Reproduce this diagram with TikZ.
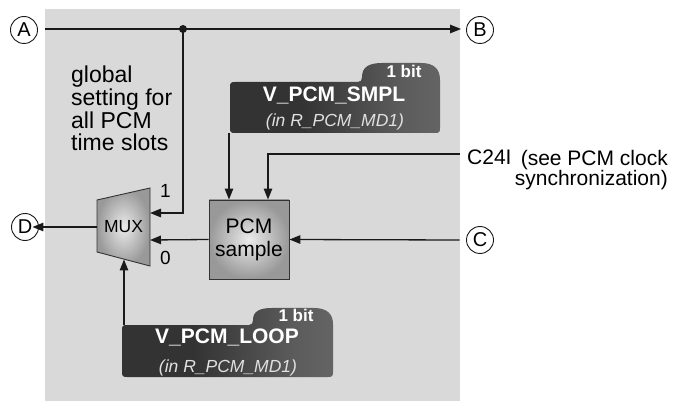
\documentclass[tikz,border=0pt]{standalone}
\usepackage{fontspec}
\setmainfont{Liberation Sans}
\usetikzlibrary{arrows.meta,calc}
\definecolor{panel}{HTML}{D9D9D9}
\definecolor{rdark}{HTML}{333333}
\definecolor{rmid}{HTML}{5C5C5C}
\definecolor{rlight}{HTML}{7A7A7A}
\definecolor{linec}{HTML}{1A1A1A}
\pgfdeclarehorizontalshading{regshade}{100bp}{color(0bp)=(rdark); color(42bp)=(rdark); color(66bp)=(rmid); color(100bp)=(rlight)}
\begin{document}
\begin{tikzpicture}[x=1pt,y=-1pt,
  conn/.style={line width=1.3pt, draw=linec},
  arr/.style={conn, -{Triangle[length=11pt,width=8.5pt]}},
  circ/.style={circle, draw=linec, line width=0.9pt, minimum size=27pt, inner sep=0pt, font=\fontsize{20}{20}\selectfont},
  txt/.style={font=\fontsize{23}{22.7}\selectfont, inner sep=0pt},
  lbl/.style={font=\fontsize{19}{20}\selectfont, inner sep=0pt},
  clktext/.style={font=\fontsize{21}{20}\selectfont, inner sep=0pt},
  regname/.style={font=\bfseries\fontsize{21}{22}\selectfont, text=white, inner sep=0pt},
  regsub/.style={font=\itshape\fontsize{17.5}{18}\selectfont, text=black!12, inner sep=0pt},
  bitlbl/.style={font=\bfseries\fontsize{17}{18}\selectfont, text=white, inner sep=0pt},
  blockbox/.style={draw=black!80, line width=0.9pt, inner color=black!8, outer color=black!40},
]
\useasboundingbox (0,0) rectangle (673,401);
\fill[panel] (45,9) rectangle (460,401);

% terminals
\node[circ] (A) at (24,30) {A};
\node[circ] (B) at (480,30) {B};
\node[circ] (C) at (480,240) {C};
\node[circ] (D) at (25,227) {D};

% global text
\node[txt, align=left, anchor=north west] (glob) at (71,66) {global\\setting for\\all PCM\\time slots};

% register V_PCM_SMPL
\shade[shading=regshade] (230,128) -- (230,87) .. controls (230,83) and (231,82) .. (235,82)
  -- (358,82) .. controls (361,82) and (362,80) .. (362,77)
  .. controls (362,67) and (369,63) .. (382,63) -- (421,63)
  .. controls (434,63) and (440,69) .. (440,80) -- (440,128)
  .. controls (440,132) and (439,133) .. (435,133) -- (235,133)
  .. controls (231,133) and (230,132) .. (230,128) -- cycle;
\node[regname, anchor=base] (smplname) at (334,102) {V\_PCM\_SMPL};
\node[regsub, anchor=base] (smplsub) at (335,127) {(in R\_PCM\_MD1)};
\node[bitlbl, anchor=base] (smplbit) at (404,78) {1 bit};
\coordinate (smplout) at (229,133);

% register V_PCM_LOOP
\shade[shading=regshade] (122,372) -- (122,330) .. controls (122,326) and (123,325) .. (127,325)
  -- (249,325) .. controls (252,325) and (253,323) .. (253,320)
  .. controls (253,311) and (260,308) .. (272,308) -- (314,308)
  .. controls (327,308) and (333,314) .. (333,324) -- (333,372)
  .. controls (333,376) and (332,377) .. (328,377) -- (127,377)
  .. controls (123,377) and (122,376) .. (122,372) -- cycle;
\node[regname, anchor=base] (loopname) at (227,343) {V\_PCM\_LOOP};
\node[regsub, anchor=base] (loopsub) at (228,372) {(in R\_PCM\_MD1)};
\node[bitlbl, anchor=base] (loopbit) at (296,322) {1 bit};
\coordinate (loopout) at (124,325);

% PCM sample block
\node[blockbox, minimum width=80pt, minimum height=79pt, inner sep=0pt, align=center,
      font=\fontsize{21}{23}\selectfont] (pcm) at (249,239.5) {PCM\\sample};

% MUX
\draw[blockbox] (97,200) -- (150,188) -- (150,266) -- (97,252) -- cycle;
\node[font=\fontsize{17.5}{18}\selectfont, inner sep=0pt] (mux) at (123.5,227) {MUX};
\coordinate (mux1) at (150,213);
\coordinate (mux0) at (150,240);
\coordinate (muxout) at (97,227);
\coordinate (muxsel) at (124,259.5);
\node[lbl, anchor=base west] (one) at (160,198) {1};
\node[lbl, anchor=base west] (zero) at (160,265) {0};

% clock text
\node[clktext, anchor=base west] (clk) at (467,165) {C24I};
\node[clktext, align=right, anchor=north east] (clknote) at (668,150) {(see PCM clock\\synchronization)};
\coordinate (clkin) at (460,154);

% connectors
\coordinate (Astart) at (45,29);
\coordinate (J) at (183,29);
\draw[arr] (Astart) -- ([xshift=-5pt]B.west |- Astart);
\draw[arr] (J) |- (mux1);
\fill[linec] (J) circle (4);
\draw[arr] (pcm.west) -- (mux0);
\draw[arr] (muxout) -- ([xshift=-6.5pt]D.east);
\draw[arr] ([xshift=-6.5pt]C.west) -- (pcm.east);
\draw[arr] (clkin) -| ([xshift=19pt]pcm.north);
\draw[arr] (smplout) -- ([xshift=-20pt]pcm.north);
\draw[arr] (loopout) -- (muxsel);
\end{tikzpicture}
\end{document}
